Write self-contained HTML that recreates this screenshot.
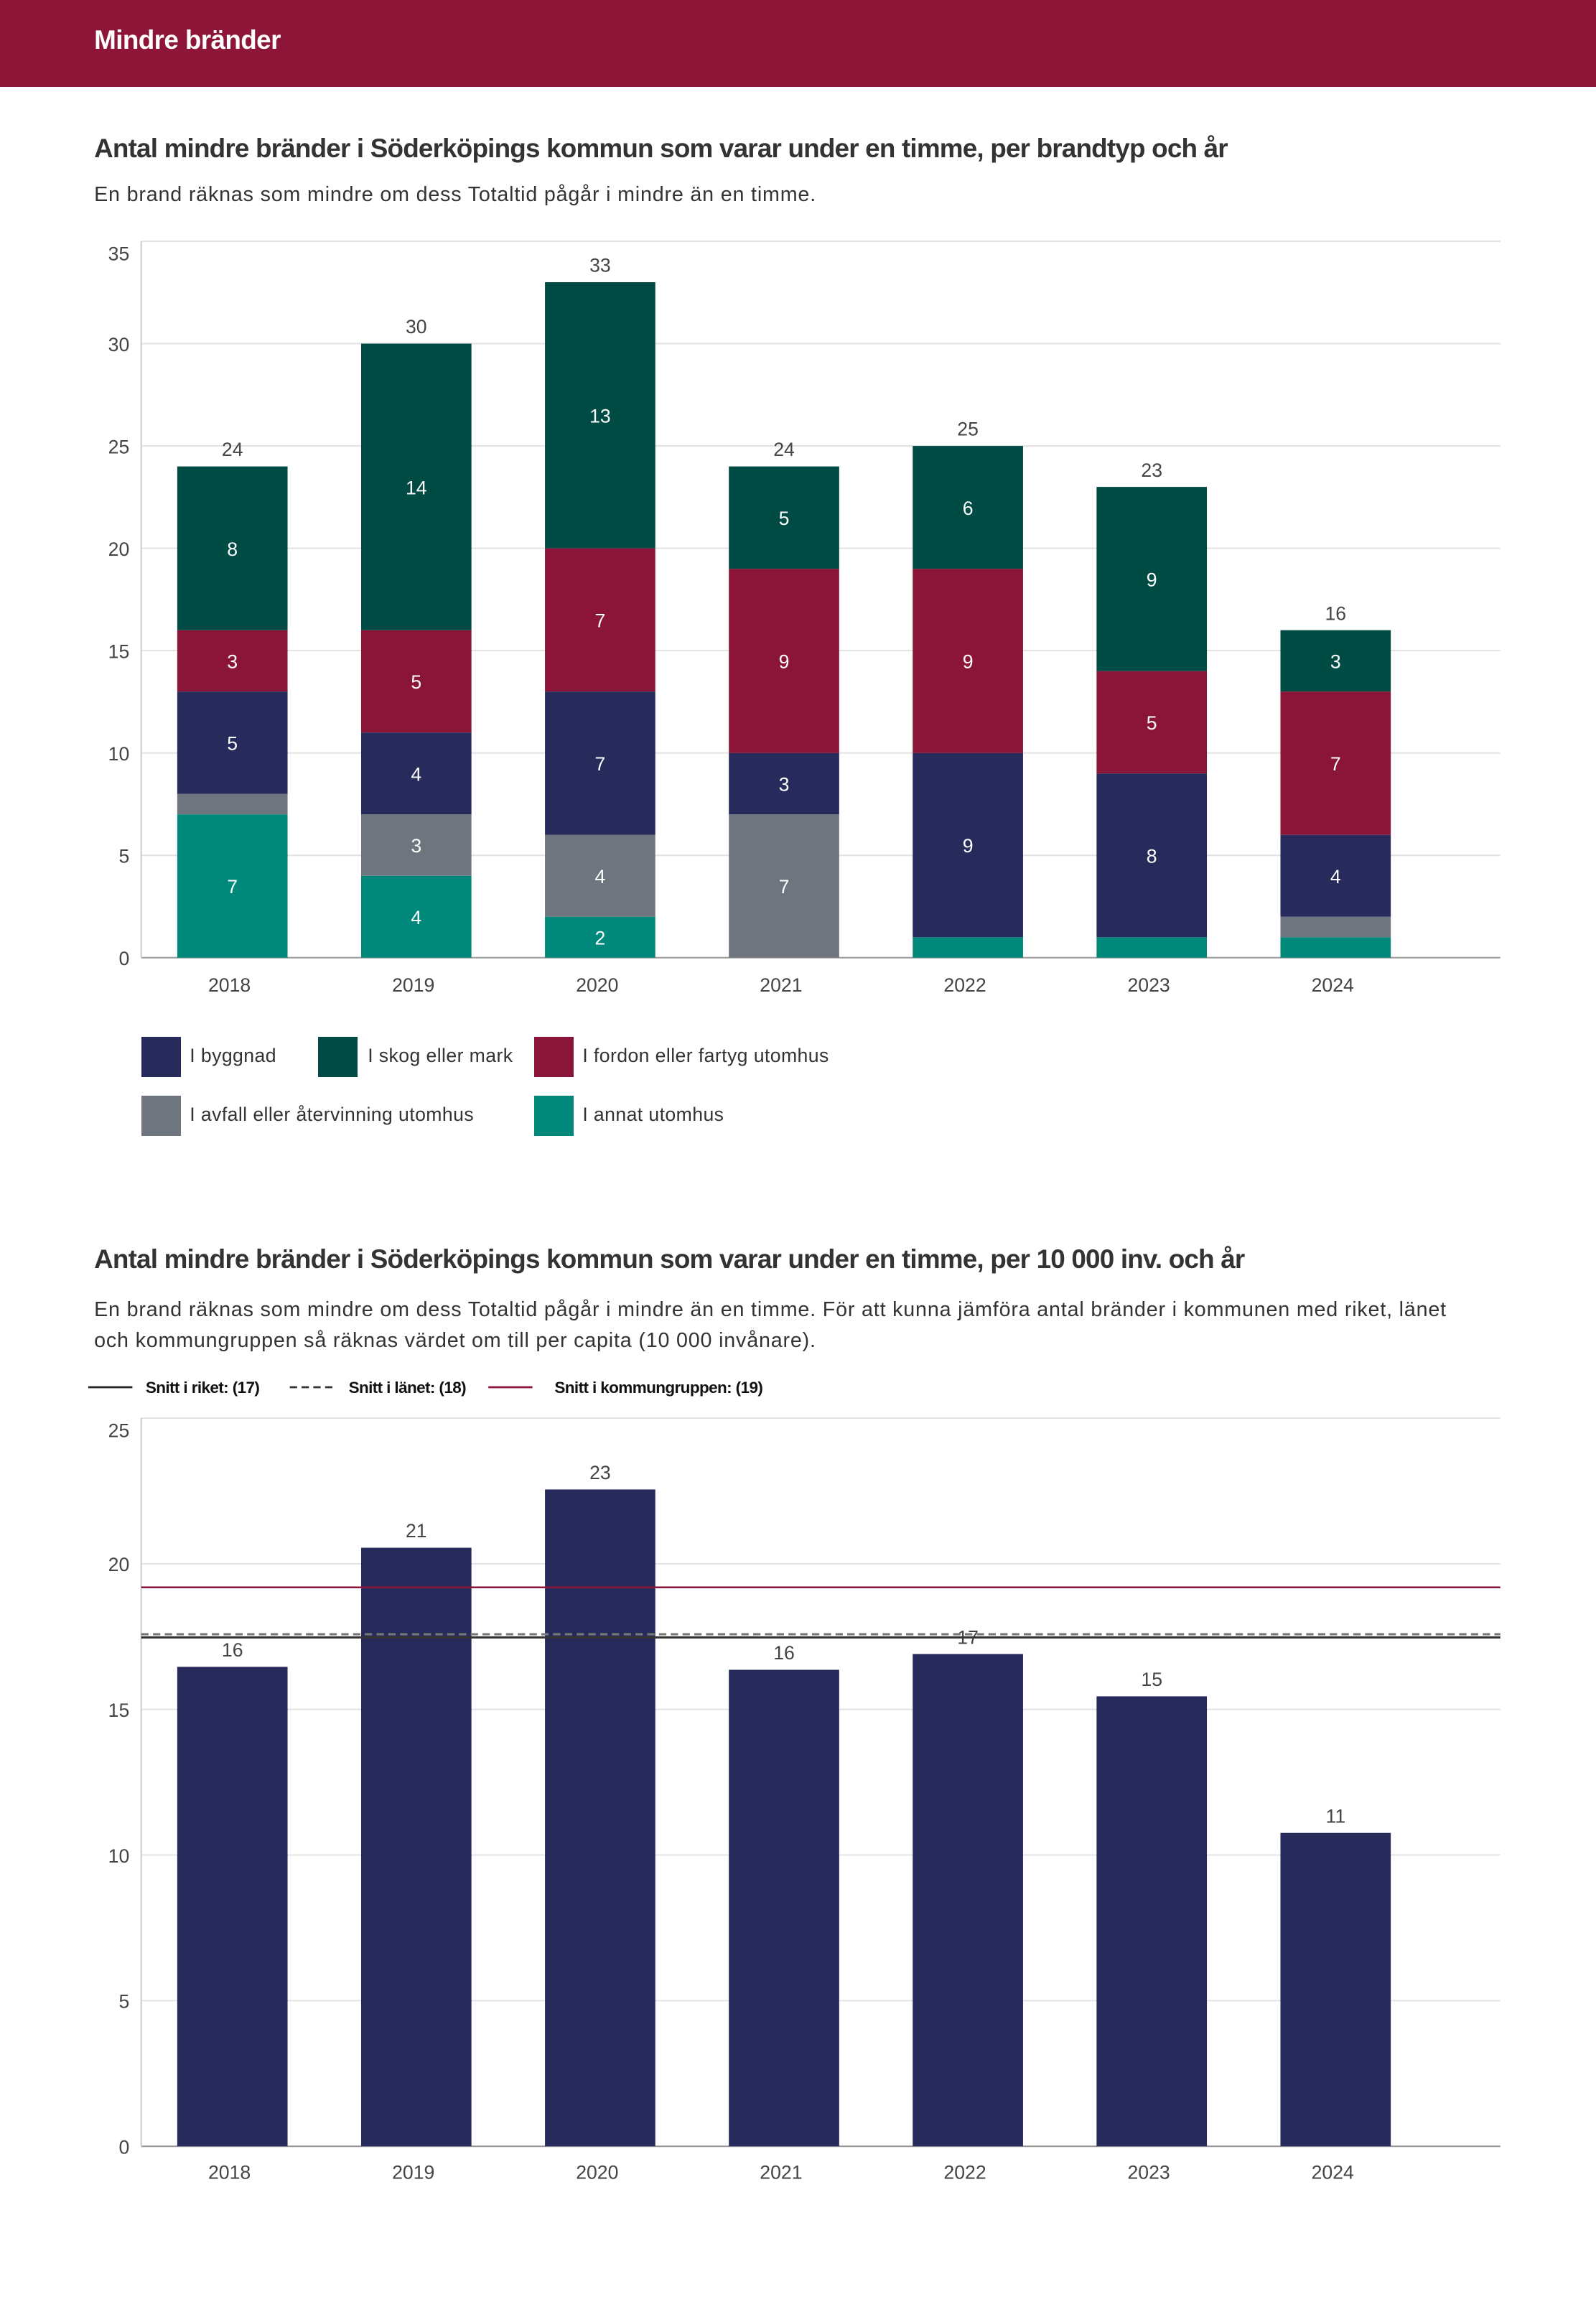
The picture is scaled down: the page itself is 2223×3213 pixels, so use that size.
<!DOCTYPE html>
<html><head><meta charset="utf-8">
<style>
html,body{margin:0;padding:0;background:#fff;}
body{width:1085px;height:1568px;zoom:2.0488;font-family:"Liberation Sans",sans-serif;color:#333;position:relative;overflow:hidden;}
.hdr{position:absolute;left:0;top:0;width:1085px;height:59px;background:#8c1538;}
.hdr span{position:absolute;left:64px;top:17px;color:#fff;font-size:18px;font-weight:bold;letter-spacing:-0.3px;}
.t{position:absolute;left:64px;font-size:18px;font-weight:bold;color:#333;letter-spacing:-0.4px;white-space:nowrap;}
.s{position:absolute;left:64px;font-size:14px;color:#333;line-height:21px;width:940px;letter-spacing:0.4px;}
svg{position:absolute;left:0;font-family:"Liberation Sans",sans-serif;}
.lg{position:absolute;font-size:13px;color:#333;letter-spacing:0.2px;}
.sw{position:absolute;width:27px;height:27px;}
</style></head><body>
<div class="hdr"><span>Mindre bränder</span></div>
<div class="t" style="top:91px">Antal mindre bränder i Söderköpings kommun som varar under en timme, per brandtyp och år</div>
<div class="s" style="top:122px">En brand räknas som mindre om dess Totaltid pågår i mindre än en timme.</div>
<svg id="c1" width="1085" height="700" style="top:0"></svg>

<div class="sw" style="left:96px;top:705px;background:#262b5c"></div><div class="lg" style="left:129px;top:710px">I byggnad</div>
<div class="sw" style="left:216px;top:705px;background:#004c45"></div><div class="lg" style="left:250px;top:710px">I skog eller mark</div>
<div class="sw" style="left:363px;top:705px;background:#8b1538"></div><div class="lg" style="left:396px;top:710px">I fordon eller fartyg utomhus</div>
<div class="sw" style="left:96px;top:745px;background:#6e757e"></div><div class="lg" style="left:129px;top:750px">I avfall eller återvinning utomhus</div>
<div class="sw" style="left:363px;top:745px;background:#00897b"></div><div class="lg" style="left:396px;top:750px">I annat utomhus</div>

<div class="t" style="top:846px">Antal mindre bränder i Söderköpings kommun som varar under en timme, per 10 000 inv. och år</div>
<div class="s" style="top:880px">En brand räknas som mindre om dess Totaltid pågår i mindre än en timme. För att kunna jämföra antal bränder i kommunen med riket, länet och kommungruppen så räknas värdet om till per capita (10 000 invånare).</div>
<svg id="c2" width="1085" height="1568" style="top:0"></svg>

<script>
const years=["2018","2019","2020","2021","2022","2023","2024"];
const annat=[7,4,2,0,1,1,1];
const avfall=[1,3,4,7,0,0,1];
const byggnad=[5,4,7,3,9,8,4];
const fordon=[3,5,7,9,9,5,7];
const skog=[8,14,13,5,6,9,3];
const ticks1=[0,5,10,15,20,25,30,35];
const perCap=[16.46,20.55,22.55,16.36,16.9,15.45,10.76];
const perCapLabels=["16","21","23","16","17","15","11"];
const ticks2=[0,5,10,15,20,25];
const riket=[17.47];
const lanet=[17.58];
const grupp=[19.19];

const NS="http://www.w3.org/2000/svg";
function mk(svg,tag,at){const e=document.createElementNS(NS,tag);for(const k in at)e.setAttribute(k,at[k]);svg.appendChild(e);return e;}
const xc=i=>158+i*125;const bw=75;

// chart 1
(function(){
const svg=document.getElementById('c1');
const y=v=>651-v*(487/35);
ticks1.forEach((t,k)=>{
 const l=mk(svg,'line',{x1:96,x2:1020,y1:y(t),y2:y(t),stroke:t?'#e3e3e3':'#999','stroke-width':1});
 
 const tx=mk(svg,'text',{x:88,y:y(t)+5+(k===ticks1.length-1?8:0),'text-anchor':'end','font-size':13,fill:'#444'});tx.textContent=t;
 
});
const ax=mk(svg,'line',{x1:96,x2:96,y1:164,y2:651,stroke:'#ccc'});

const series=[[annat,'#00897b'],[avfall,'#6e757e'],[byggnad,'#262b5c'],[fordon,'#8b1538'],[skog,'#004c45']];
years.forEach((yr,i)=>{
 let base=0;
 series.forEach(([arr,c])=>{
  const v=arr[i];if(!v)return;
  const r=mk(svg,'rect',{x:xc(i)-bw/2,y:y(base+v),width:bw,height:y(base)-y(base+v),fill:c});
  
  if(v>=2){const t=mk(svg,'text',{x:xc(i),y:(y(base)+y(base+v))/2+5,'text-anchor':'middle','font-size':13,fill:'#fff'});t.textContent=v;
   }
  base+=v;
 });
 const tl=mk(svg,'text',{x:xc(i),y:y(base)-7,'text-anchor':'middle','font-size':13,fill:'#444'});tl.textContent=base;
 
 const xl=mk(svg,'text',{x:xc(i)-2,y:674,'text-anchor':'middle','font-size':13,fill:'#444'});xl.textContent=yr;
 
});
})();

// chart 2
(function(){
const svg=document.getElementById('c2');
const y=v=>1459-v*(495/25);
const lg=[[60,'#222','','Snitt i riket: (17)',99],[197,'#333','5,3','Snitt i länet: (18)',237],[332,'#8b1538','','Snitt i kommungruppen: (19)',377]];
lg.forEach(([x,c,d,txt,tx])=>{
 const l=mk(svg,'line',{x1:x,x2:x+30,y1:943,y2:943,stroke:c,'stroke-width':1.3,'stroke-dasharray':d});
 
 const t=mk(svg,'text',{x:tx,y:947,'font-size':11,'font-weight':'bold',fill:'#111','letter-spacing':-0.3});t.textContent=txt;
 
});
ticks2.forEach((t,k)=>{
 const l=mk(svg,'line',{x1:96,x2:1020,y1:y(t),y2:y(t),stroke:t?'#e3e3e3':'#999','stroke-width':1});
 
 const tx=mk(svg,'text',{x:88,y:y(t)+5+(k===ticks2.length-1?8:0),'text-anchor':'end','font-size':13,fill:'#444'});tx.textContent=t;
 
});
const ax=mk(svg,'line',{x1:96,x2:96,y1:964,y2:1459,stroke:'#ccc'});

years.forEach((yr,i)=>{
 const v=perCap[i];
 const r=mk(svg,'rect',{x:xc(i)-bw/2,y:y(v),width:bw,height:y(0)-y(v),fill:'#262b5c'});
 
 const t=mk(svg,'text',{x:xc(i),y:y(v)-7,'text-anchor':'middle','font-size':13,fill:'#444'});t.textContent=perCapLabels[i];
 
 const xl=mk(svg,'text',{x:xc(i)-2,y:1481,'text-anchor':'middle','font-size':13,fill:'#444'});xl.textContent=yr;
 
});
const l1=mk(svg,'line',{x1:96,x2:1020,y1:y(grupp[0]),y2:y(grupp[0]),stroke:'#8b1538','stroke-width':1.2});

const l2=mk(svg,'line',{x1:96,x2:1020,y1:y(lanet[0]),y2:y(lanet[0]),stroke:'#777','stroke-width':1.5,'stroke-dasharray':'5,3'});

const l3=mk(svg,'line',{x1:96,x2:1020,y1:y(riket[0]),y2:y(riket[0]),stroke:'#333','stroke-width':1.5});

})();
</script>
</body></html>
